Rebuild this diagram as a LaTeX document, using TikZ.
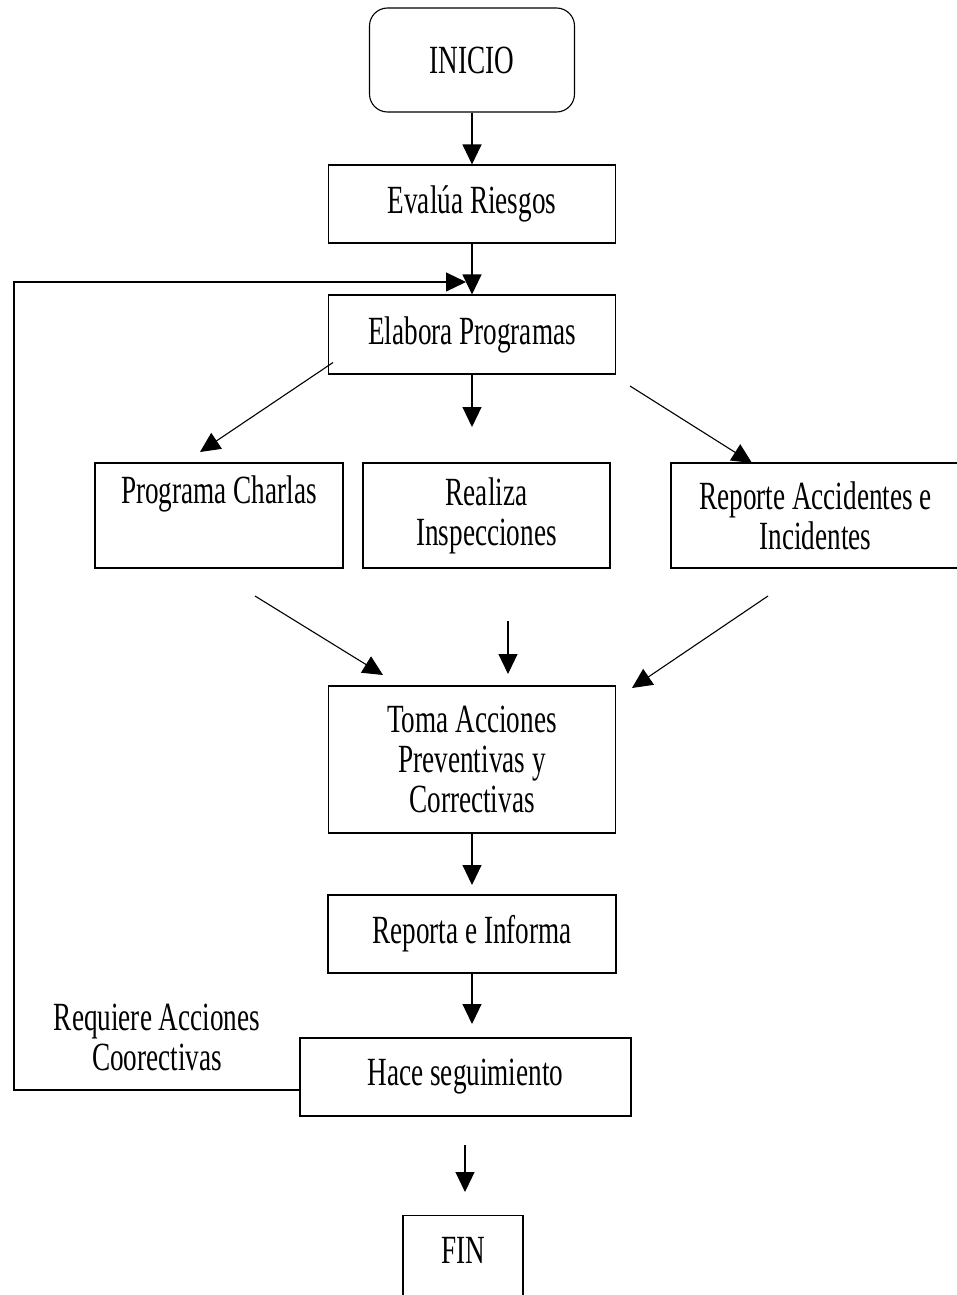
\documentclass[tikz,border=0pt]{standalone}
\usepackage{fontspec}
\setmainfont[FakeStretch=0.68]{Liberation Serif}
\usetikzlibrary{arrows.meta,calc}

\begin{document}
\begin{tikzpicture}[x=1pt,y=-1pt,
  txt/.style={font=\fontsize{40}{40}\selectfont, align=center},
  box/.style={txt, draw, line width=1.1pt, inner sep=0pt},
  flow/.style={line width=1.1pt, -{Triangle[length=20pt,width=19pt]}},
  link/.style={line width=1.1pt}]
\useasboundingbox (0,0) rectangle (957,1295);
\fill[white] (0,0) rectangle (957,1295);

% process boxes
\node[box, rounded corners=18pt, minimum width=205, minimum height=104] (inicio) at (472,60) {INICIO};
\node[box, minimum width=287, minimum height=78] (evalua) at (472,204) {Evalúa Riesgos};
\node[box, minimum width=287, minimum height=79] (elabora) at (472,334.5) {Elabora Programas};
\node[box, minimum width=248, minimum height=105] (charlas) at (219,515.5) {Programa Charlas\\\strut};
\node[box, minimum width=247, minimum height=105] (inspec) at (486.5,515.5) {Realiza\\Inspecciones};
\node[box, minimum width=289, minimum height=105] (reporte) at (815.5,515.5) {Reporte Accidentes e\\Incidentes};
\node[box, minimum width=287, minimum height=147] (toma) at (472,759.5) {Toma Acciones\\Preventivas y\\Correctivas};
\node[box, minimum width=288, minimum height=78] (reporta) at (472,934) {Reporta e Informa};
\node[box, minimum width=331, minimum height=78] (hace) at (465.5,1077) {Hace seguimiento};
\node[box, anchor=north, minimum width=120, text height=48, text depth=52] (fin) at (463,1215) {FIN};

% loop label
\node[txt] (req) at (157,1037) {Requiere Acciones\\Coorectivas};

% free ends of the connectors
\coordinate (a3s) at ($(elabora.south west)+(5,-12)$);
\coordinate (a3e) at (200,452);
\coordinate (a4e) at (472,427);
\coordinate (a5s) at (630,386);
\coordinate (a5e) at (752,463);
\coordinate (a6s) at (255,596);
\coordinate (a6e) at (383,675);
\coordinate (a7s) at (508,621);
\coordinate (a7e) at (508,674);
\coordinate (a8s) at (768,596);
\coordinate (a8e) at (632,688);
\coordinate (a9e) at (472,885);
\coordinate (a10e) at (472,1024);
\coordinate (a11s) at (465,1145);
\coordinate (a11e) at (465,1192);
\coordinate (ls) at ($(hace.west)+(0,13)$);
\coordinate (lc1) at (14,1090);
\coordinate (lc2) at (14,282);
\coordinate (le) at (466,282);

% connectors
\draw[flow] (inicio.south) -- (evalua.north);
\draw[flow] (evalua.south) -- (elabora.north);
\draw[flow] (a3s) -- (a3e);
\draw[flow] (elabora.south) -- (a4e);
\draw[flow] (a5s) -- (a5e);
\draw[flow] (a6s) -- (a6e);
\draw[flow] (a7s) -- (a7e);
\draw[flow] (a8s) -- (a8e);
\draw[flow] (toma.south) -- (a9e);
\draw[flow] (reporta.south) -- (a10e);
\draw[flow] (a11s) -- (a11e);
\draw[flow] (ls) -- (lc1) -- (lc2) -- (le);
\end{tikzpicture}
\end{document}
